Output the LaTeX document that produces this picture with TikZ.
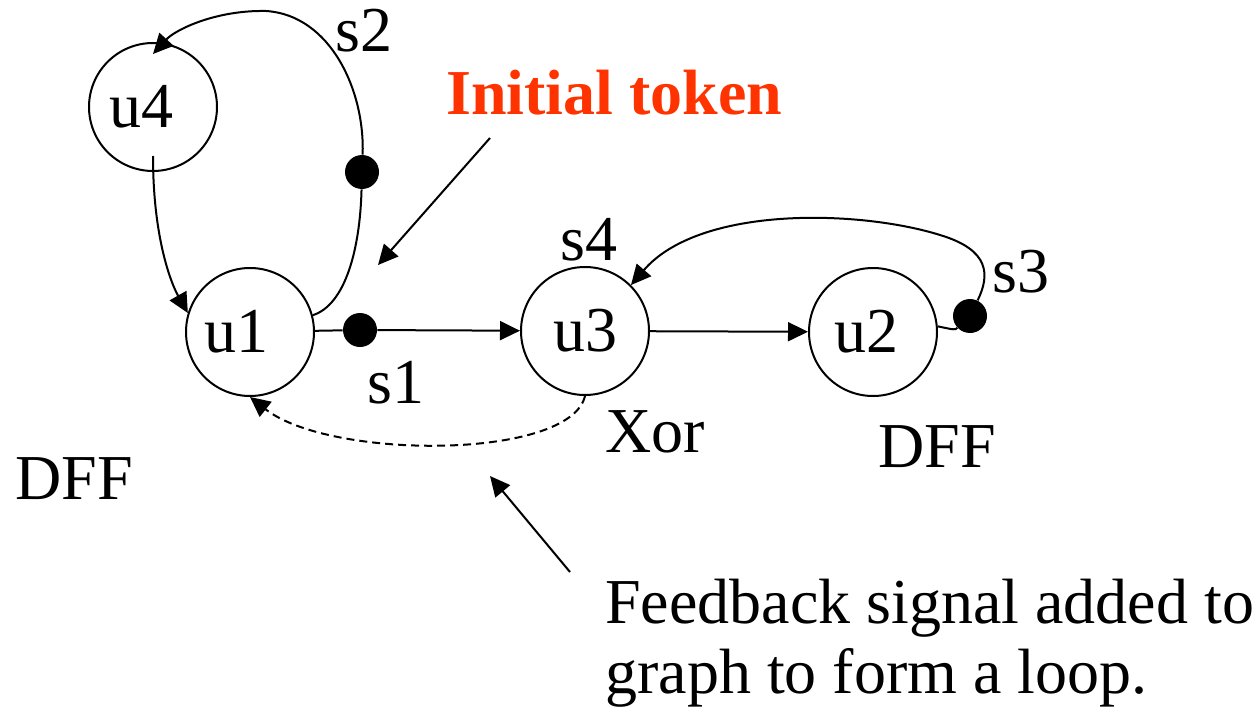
\documentclass[tikz,border=0pt]{standalone}
\usepackage{fontspec}
\setmainfont{Liberation Serif}
\usepackage{xcolor}
\usetikzlibrary{arrows.meta,positioning}
\definecolor{tokenred}{RGB}{255,51,0}

\begin{document}
\begin{tikzpicture}
                [x=0.5pt, y=-0.5pt, >={Triangle[length=10pt,width=9.5pt]},
                every node/.style={font=\fontsize{32}{38}\selectfont},
                gate/.style={draw,circle,line width=1pt,minimum size=64pt,inner sep=0pt},
                token/.style={fill,circle,minimum size=17pt,inner sep=0pt},
                wire/.style={line width=1pt},
                lbl/.style={inner sep=0pt,anchor=base west},
                ]
                \useasboundingbox (0,0) rectangle (1258,717);

                % gates
                \node[gate] (u4) at (153,107) {u4\hspace*{12pt}};
                \node[gate] (u1) at (250,332) {u1\hspace*{14pt}};
                \node[gate] (u3) at (585,331) {u3};
                \node[gate] (u2) at (873,332) {u2\hspace*{7pt}};

                % tokens
                \node[token] (t2) at (362,172) {};
                \node[token] (t1) at (360,330) {};
                \node[token] (t3) at (970,316) {};

                \draw[wire] (u1) -- (t1);
                \draw[wire,->] (t1) -- (u3);
                \draw[wire,->] (u3) -- (u2);

                \draw[wire,->] ([yshift=8pt]u4.south)
                    .. controls (153,240) and (172,285) .. (u1.163);
                \draw[wire] (u1.15) .. controls (345,305) and (360,250) .. (t2);
                \draw[wire,->] (t2) .. controls (365,90) and (330,15) .. (266,11)
                    .. controls (215,10) and (175,30) .. ([yshift=-6pt]u4.north);

                \draw[wire] (u2.5) .. controls (955,330) .. (t3);
                \draw[wire,->] (t3) .. controls (990,275) and (990,250) .. (940,235)
                    .. controls (860,210) and (700,205) .. (u3.45);

                \draw[line width=1pt,dash pattern=on 4pt off 2.5pt,->]
                    (u3.south) .. controls (570,460) and (330,460) .. (u1.south);

                % labels
                \node[lbl] (s2) at (335,52) {s2};
                \node[lbl] (s1) at (367,403) {s1};
                \node[lbl] (s4) at (560,260) {s4};
                \node[lbl] (s3) at (992,292) {s3};
                \node[lbl] (xor) at (605,452) {Xor};
                \node[lbl] (dffa) at (878,467) {DFF};
                \node[lbl] (dffb) at (15,499) {DFF};

                \node[lbl,text=tokenred,font=\fontsize{32}{38}\selectfont\bfseries]
                    (init) at (446,115) {Initial token};
                \coordinate (initA) at (490,138);
                \coordinate (initB) at (378,265);
                \draw[wire,->] (initA) -- (initB);

                \node[lbl] (fb1) at (605,623) {Feedback signal added to};
                \node[lbl] (fb2) at (605,693) {graph to form a loop.};
                \coordinate (fbA) at (570,572);
                \coordinate (fbB) at (490,476);
                \draw[wire,->] (fbA) -- (fbB);
            \end{tikzpicture}
\end{document}
